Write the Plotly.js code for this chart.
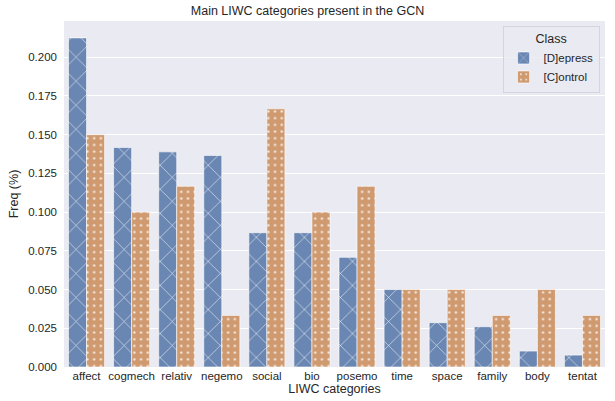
<!DOCTYPE html>
<html>
<head>
<meta charset="utf-8">
<script src="https://cdn.plot.ly/plotly-3.0.1.min.js"></script>
<style>html,body{margin:0;padding:0;background:#fff;}#chart{width:615px;height:401px;}</style>
</head>
<body>
<div id="chart"></div>
<script>
const categories = ["affect","cogmech","relativ","negemo","social","bio","posemo","time","space","family","body","tentat"];
const depressValues = [0.2125, 0.1417, 0.1389, 0.1366, 0.0867, 0.0867, 0.0708, 0.0500, 0.0286, 0.0260, 0.0103, 0.0077];
const controlValues = [0.1500, 0.1000, 0.1167, 0.0333, 0.1667, 0.1000, 0.1167, 0.0500, 0.0500, 0.0333, 0.0500, 0.0333];
const seriesNames = ["[D]epress", "[C]ontrol"];
const yTicks = [0, 0.025, 0.05, 0.075, 0.1, 0.125, 0.15, 0.175, 0.2];

const font = "Liberation Sans, Arial, sans-serif";
const traces = [
  {
    type: "bar", name: seriesNames[0], x: categories, y: depressValues,
    marker: {
      color: "#6a86b2",
      line: {color: "#ffffff", width: 0.6},
      pattern: {shape: "x", fgcolor: "#ffffff", fgopacity: 0.85, bgcolor: "#6a86b2", size: 17, solidity: 0.07, fillmode: "replace"}
    }
  },
  {
    type: "bar", name: seriesNames[1], x: categories, y: controlValues,
    marker: {
      color: "#d09a70",
      line: {color: "#ffffff", width: 0.6},
      pattern: {shape: ".", fgcolor: "#ffffff", fgopacity: 0.8, bgcolor: "#d09a70", size: 6.7, solidity: 0.1, fillmode: "replace"}
    }
  }
];

const layout = {
  width: 615, height: 401,
  margin: {l: 64, r: 10, t: 21, b: 34, pad: 0},
  paper_bgcolor: "#ffffff",
  plot_bgcolor: "#eaeaf2",
  font: {family: font, size: 11.5, color: "#262626"},
  title: {text: "Main LIWC categories present in the GCN", font: {family: font, size: 12.5, color: "#262626"}, x: 0.5, xanchor: "center", y: 0.985, yanchor: "top"},
  barmode: "group",
  bargap: 0.2,
  bargroupgap: 0,
  xaxis: {
    showgrid: false, zeroline: false, ticks: "", ticklen: 0,
    tickfont: {family: font, size: 11.5, color: "#262626"},
    title: {text: "LIWC categories", font: {family: font, size: 12.5, color: "#262626"}, standoff: 2}
  },
  yaxis: {
    range: [0, 0.2234], tickvals: yTicks, tickformat: ".3f",
    showgrid: true, gridcolor: "#ffffff", gridwidth: 1, zeroline: false, ticks: "",
    ticklabelstandoff: 6,
    tickfont: {family: font, size: 11.5, color: "#262626"},
    title: {text: "Freq (%)", font: {family: font, size: 12.5, color: "#262626"}, standoff: 6}
  },
  legend: {
    x: 0.99, xanchor: "right", y: 0.985, yanchor: "top",
    bgcolor: "rgba(234,234,242,0.85)", bordercolor: "#d4d4dc", borderwidth: 1,
    font: {family: font, size: 11.5, color: "#262626"},
    title: {text: "Class", side: "top center", font: {family: font, size: 12.5, color: "#262626"}},
    itemwidth: 30
  },
  showlegend: true
};

Plotly.newPlot("chart", traces, layout, {displayModeBar: false, staticPlot: true});
</script>
</body>
</html>
